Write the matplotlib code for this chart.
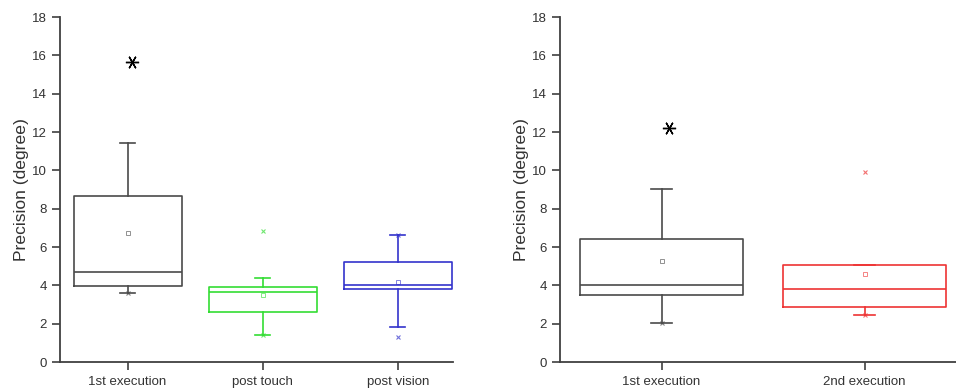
import matplotlib.pyplot as plt

plt.rcParams['font.family'] = ['Liberation Sans', 'DejaVu Sans']

# Left panel: first execution vs post-touch / post-vision
left_labels = ['1st execution', 'post touch', 'post vision']
left_colors = ['#4a4a4a', '#33dd33', '#3333cc']
left_q1 = [3.98, 2.62, 3.82]
left_med = [4.69, 3.65, 4.02]
left_q3 = [8.66, 3.90, 5.22]
left_lo = [3.60, 1.41, 1.84]
left_hi = [11.41, 4.40, 6.61]
left_mean = [6.71, 3.51, 4.16]
left_outliers = [[], [6.83], [1.32]]
left_extremes = [[3.60], [1.41], [6.61]]
left_star = [15.67, None, None]

# Right panel: first vs second execution
right_labels = ['1st execution', '2nd execution']
right_colors = ['#4a4a4a', '#ee3333']
right_q1 = [3.51, 2.85]
right_med = [4.04, 3.79]
right_q3 = [6.42, 5.04]
right_lo = [2.03, 2.45]
right_hi = [9.04, 5.04]
right_mean = [5.25, 4.61]
right_outliers = [[], [9.94]]
right_extremes = [[2.03], [2.45]]
right_star = [12.19, None]


def draw_panel(ax, labels, colors, q1, med, q3, lo, hi, mean, outliers,
               extremes, star, xlim, capw):
    for i, lab in enumerate(labels):
        pos = i + 1
        c = colors[i]
        stats = [dict(label=lab, q1=q1[i], med=med[i], q3=q3[i],
                      whislo=lo[i], whishi=hi[i], mean=mean[i],
                      fliers=outliers[i])]
        ax.bxp(stats, positions=[pos], widths=0.8, showmeans=True,
               showfliers=True, capwidths=capw,
               boxprops=dict(color=c, lw=1.2),
               medianprops=dict(color=c, lw=1.2),
               whiskerprops=dict(color=c, lw=1.2),
               capprops=dict(color=c, lw=1.2),
               meanprops=dict(marker='s', markersize=3.5, markerfacecolor='none',
                              markeredgecolor=c, markeredgewidth=0.6, alpha=0.7),
               flierprops=dict(marker='x', markersize=3.5, markeredgecolor=c,
                               markeredgewidth=0.8, alpha=0.7))
        # min/max markers at the whisker ends
        ax.plot([pos] * len(extremes[i]), extremes[i], ls='none', marker='x',
                ms=3.5, mec=c, mew=0.8, alpha=0.7)
        if star[i] is not None:
            ax.plot(pos + 0.035, star[i], ls='none', marker=(6, 2, 90),
                    ms=9.5, mec='black', mew=1.0)

    ax.set_xlim(*xlim)
    ax.set_ylim(0, 18)
    ax.set_yticks(range(0, 19, 2))
    ax.set_xticks(range(1, len(labels) + 1))
    ax.set_xticklabels(labels)
    ax.set_ylabel('Precision (degree)', fontsize=12.6, color='#333333', labelpad=2)
    for s in ['top', 'right']:
        ax.spines[s].set_visible(False)
    for s in ['left', 'bottom']:
        ax.spines[s].set_color('#404040')
        ax.spines[s].set_linewidth(1.3)
    ax.tick_params(direction='out', length=6, width=1.2, color='#404040',
                   labelsize=9.5, labelcolor='#333333')
    ax.tick_params(axis='x', pad=4)


fig = plt.figure(figsize=(9.56, 3.92), dpi=100)
ax1 = fig.add_axes([0.0628, 0.0765, 0.4112, 0.880])
ax2 = fig.add_axes([0.5858, 0.0765, 0.4142, 0.880])

draw_panel(ax1, left_labels, left_colors, left_q1, left_med, left_q3,
           left_lo, left_hi, left_mean, left_outliers, left_extremes,
           left_star, (0.5, 3.41), 0.11)
draw_panel(ax2, right_labels, right_colors, right_q1, right_med, right_q3,
           right_lo, right_hi, right_mean, right_outliers, right_extremes,
           right_star, (0.5, 2.45), 0.105)

fig.savefig('out.png', dpi=100)
